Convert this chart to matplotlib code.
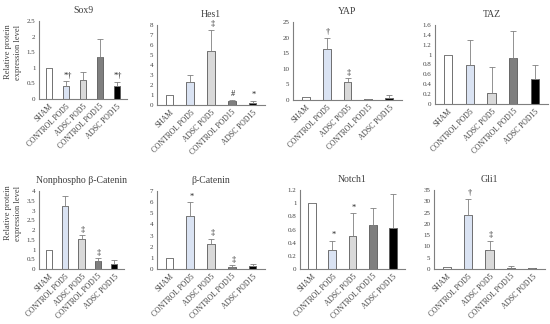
import matplotlib
matplotlib.use("Agg")
import matplotlib.pyplot as plt
from matplotlib.ticker import FuncFormatter, MultipleLocator

plt.rcParams['font.family'] = ['Liberation Serif', 'DejaVu Serif']

groups = ["SHAM", "CONTROL POD5", "ADSC POD5", "CONTROL POD15", "ADSC POD15"]
colors = ["#ffffff", "#dae3f3", "#d9d9d9", "#7f7f7f", "#000000"]

titles = ["Sox9", "Hes1", "YAP", "TAZ",
          "Nonphospho β-Catenin", "β-Catenin", "Notch1", "Gli1"]

sox9_mean = [1.0, 0.42, 0.60, 1.35, 0.42]
sox9_err = [0.0, 0.15, 0.25, 0.58, 0.13]
hes1_mean = [1.0, 2.3, 5.4, 0.45, 0.2]
hes1_err = [0.0, 0.7, 2.1, 0.05, 0.25]
yap_mean = [1.0, 16.5, 5.8, 0.2, 0.6]
yap_err = [0.0, 3.5, 1.2, 0.1, 1.0]
taz_mean = [1.0, 0.78, 0.22, 0.93, 0.50]
taz_err = [0.0, 0.52, 0.53, 0.55, 0.30]
npbc_mean = [1.0, 3.25, 1.55, 0.40, 0.25]
npbc_err = [0.0, 0.50, 0.17, 0.15, 0.20]
bc_mean = [1.0, 4.8, 2.2, 0.2, 0.25]
bc_err = [0.0, 1.2, 0.5, 0.15, 0.2]
notch1_mean = [1.0, 0.29, 0.50, 0.67, 0.62]
notch1_err = [0.0, 0.14, 0.35, 0.25, 0.52]
gli1_mean = [1.0, 24.0, 8.5, 0.5, 0.4]
gli1_err = [0.0, 7.0, 4.0, 0.7, 0.1]

sox9_sig = ["", "*†", "", "", "*†"]
hes1_sig = ["", "", "‡", "#", "*"]
yap_sig = ["", "†", "‡", "", ""]
taz_sig = ["", "", "", "", ""]
npbc_sig = ["", "", "‡", "‡", ""]
bc_sig = ["", "*", "‡", "‡", ""]
notch1_sig = ["", "*", "*", "", ""]
gli1_sig = ["", "†", "‡", "", ""]

ymax = [2.5, 8, 25, 1.6, 4, 7, 1.2, 35]
ystep = [0.5, 1, 5, 0.2, 0.5, 1, 0.2, 5]

means = [sox9_mean, hes1_mean, yap_mean, taz_mean, npbc_mean, bc_mean, notch1_mean, gli1_mean]
errs = [sox9_err, hes1_err, yap_err, taz_err, npbc_err, bc_err, notch1_err, gli1_err]
sigs = [sox9_sig, hes1_sig, yap_sig, taz_sig, npbc_sig, bc_sig, notch1_sig, gli1_sig]

W, H = 550, 324
# pixel boxes: left, right, y0 (zero), ytop
boxes = [(39, 127, 99, 21), (157, 265, 105, 25), (293, 402, 100, 22), (435, 548, 104, 25),
         (39, 124, 269, 191), (157, 265, 269, 191), (300, 405, 269, 190), (434, 545, 269, 190)]
ylabel_y = {0: 52, 4: 213}

fig = plt.figure(figsize=(5.5, 3.24), dpi=100)
fmt = FuncFormatter(lambda v, p: "{:g}".format(round(v, 3)))
for i in range(8):
    l, r, y0, yt = boxes[i]
    ax = fig.add_axes([l / W, 1 - y0 / H, (r - l) / W, (y0 - yt) / H])
    x = list(range(5))
    ax.bar(x, means[i], width=0.38, color=colors, edgecolor="#595959", linewidth=0.6, zorder=2)
    ax.errorbar(x, means[i], yerr=[[0] * 5, errs[i]], fmt="none", ecolor="#808080",
                elinewidth=0.6, capsize=2, capthick=0.6, zorder=3)
    for j in range(5):
        if sigs[i][j]:
            ax.text(x[j] + 0.08, means[i][j] + errs[i][j] + ymax[i] * 0.02, sigs[i][j],
                    ha="center", va="bottom", fontsize=6, color="#222222")
    ax.set_xlim(-0.6, 4.6)
    ax.set_ylim(0, ymax[i])
    ax.yaxis.set_major_locator(MultipleLocator(ystep[i]))
    ax.yaxis.set_major_formatter(fmt)
    ax.set_xticks(x)
    ax.set_xticklabels(groups, rotation=45, ha="right", rotation_mode="anchor", fontsize=5.5, color="#404040")
    ax.tick_params(axis="both", length=0, pad=2.5)
    ax.tick_params(axis="y", labelsize=5, labelcolor="#404040")
    for s in ["top", "right"]:
        ax.spines[s].set_visible(False)
    for s in ["left", "bottom"]:
        ax.spines[s].set_color("#7f7f7f")
        ax.spines[s].set_linewidth(0.8)
    ax.set_title(titles[i], fontsize=7, color="#404040", pad=6)
    if i in ylabel_y:
        fig.text(13 / W, 1 - ylabel_y[i] / H, "Relative protein\nexpression level",
                 rotation=90, ha="center", va="center", fontsize=6, color="#404040")

fig.savefig("out.png", dpi=100, facecolor="white")
